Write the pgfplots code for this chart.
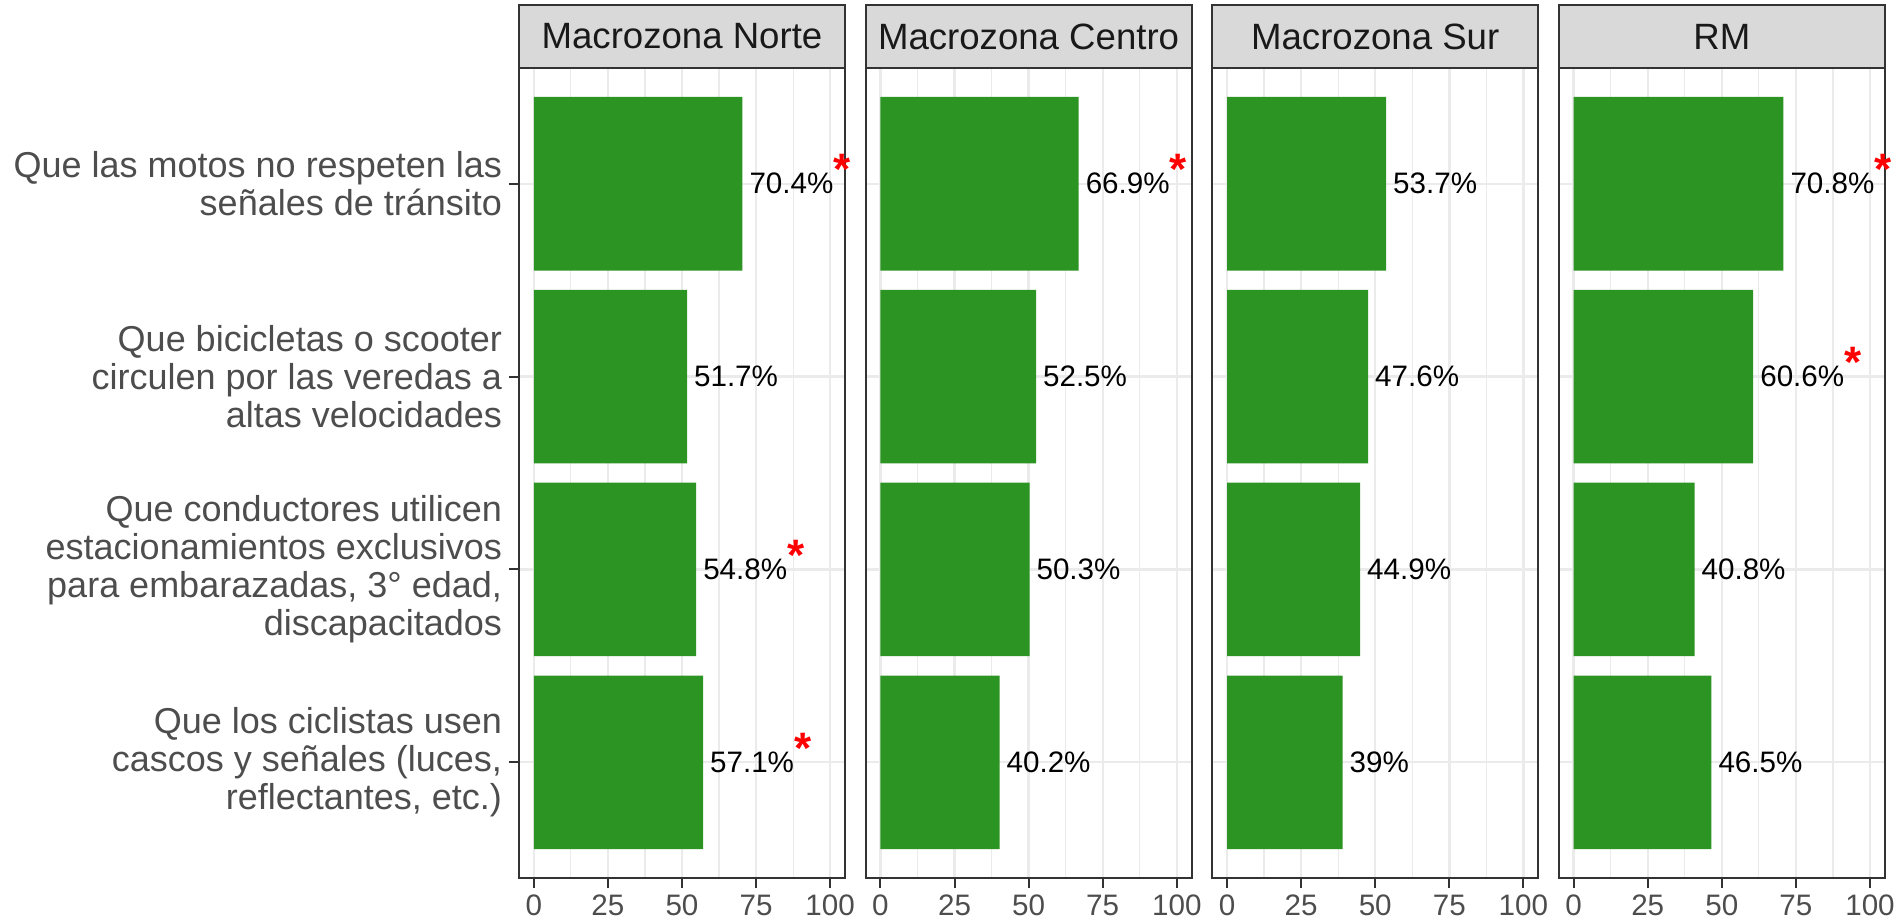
\documentclass[border=0pt]{standalone}
\usepackage{pgfplots}
\pgfplotsset{compat=1.18}
\usepackage{fontspec}
\setmainfont{Liberation Sans}
\definecolor{bargreen}{RGB}{44,148,34}
\definecolor{gridc}{RGB}{235,235,235}
\definecolor{framec}{RGB}{51,51,51}
\definecolor{stripfill}{RGB}{217,217,217}
\definecolor{ticklab}{RGB}{77,77,77}
\newcommand\sig{\smash{\raisebox{4.5pt}{\fontsize{22}{22}\selectfont\bfseries\color{red}*}}}
\pgfplotsset{
 panel/.style={
  scale only axis, width=163pt, height=405pt,
  xmin=-5, xmax=105, ymin=0.4, ymax=4.6, y dir=reverse,
  xbar, bar width=0.9,
  xtick={0,25,50,75,100}, xticklabels={0,25,50,75,100},
  minor xtick={12.5,37.5,62.5,87.5},
  ytick={1,2,3,4},
  xmajorgrids, xminorgrids, ymajorgrids,
  major grid style={gridc, line width=1.2pt},
  minor grid style={gridc, line width=0.6pt},
  minor tick length=0pt, major tick length=5pt, tick align=outside,
  xtick pos=bottom, ytick pos=left,
  tick style={framec, line width=1pt},
  axis line style={framec, line width=0.9pt},
  ticklabel style={font=\fontsize{14.8}{14.8}\selectfont, text=ticklab},
  title style={at={(0.5,1)}, anchor=south, yshift=-6pt, draw=framec, line width=0.9pt,
    fill=stripfill, minimum width=163pt, minimum height=31.5pt, inner sep=0pt,
    outer sep=0pt, text=black!90, font=\fontsize{18.3}{18.3}\selectfont},
  nodes near coords, point meta=explicit symbolic,
  every node near coord/.append style={font=\fontsize{14.8}{14.8}\selectfont, text=black, anchor=west},
 },
 barstyle/.style={fill=bargreen, draw=none},
}
\begin{document}
\begin{tikzpicture}
\path[use as bounding box] (0pt,-22pt) rectangle (950.5pt,439pt);
\begin{axis}[panel, at={(259.5pt,0pt)}, anchor=south west, title={Macrozona Norte},
  yticklabels={{Que las motos no respeten las\\señales de tránsito},
    {Que bicicletas o scooter\\circulen por las veredas a\\altas velocidades},
    {Que conductores utilicen\\estacionamientos exclusivos\\para embarazadas, 3° edad,\\discapacitados},
    {Que los ciclistas usen\\cascos y señales (luces,\\reflectantes, etc.)}},
  yticklabel style={font=\fontsize{18}{19}\selectfont, align=right, text=ticklab}]
\addplot[barstyle] coordinates {(70.4,1) [70.4\%\sig] (51.7,2) [51.7\%] (54.8,3) [54.8\%\sig] (57.1,4) [57.1\%\sig]};
\end{axis}
\begin{axis}[panel, at={(432.8pt,0pt)}, anchor=south west, title={Macrozona Centro},
  yticklabels={}, ymajorticks=false]
\addplot[barstyle] coordinates {(66.9,1) [66.9\%\sig] (52.5,2) [52.5\%] (50.3,3) [50.3\%] (40.2,4) [40.2\%]};
\end{axis}
\begin{axis}[panel, at={(606.1pt,0pt)}, anchor=south west, title={Macrozona Sur},
  yticklabels={}, ymajorticks=false]
\addplot[barstyle] coordinates {(53.7,1) [53.7\%] (47.6,2) [47.6\%] (44.9,3) [44.9\%] (39,4) [39\%]};
\end{axis}
\begin{axis}[panel, at={(779.4pt,0pt)}, anchor=south west, title={RM},
  yticklabels={}, ymajorticks=false]
\addplot[barstyle] coordinates {(70.8,1) [70.8\%\sig] (60.6,2) [60.6\%\sig] (40.8,3) [40.8\%] (46.5,4) [46.5\%]};
\end{axis}
\end{tikzpicture}
\end{document}
